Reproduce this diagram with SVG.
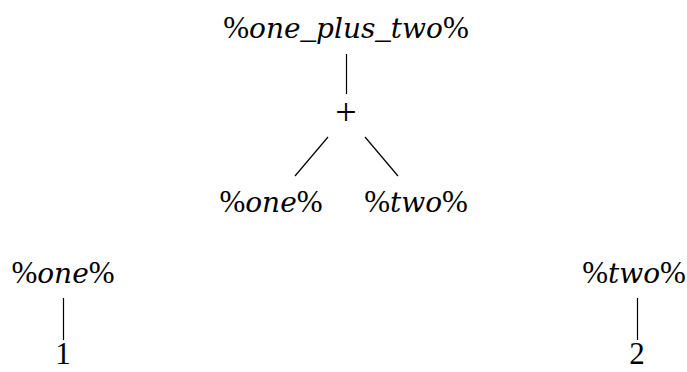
<svg xmlns="http://www.w3.org/2000/svg" width="687" height="372" viewBox="0 0 687 372">
<style>
text{font-family:'Liberation Serif','Times New Roman',serif;font-size:31px;fill:#000;text-anchor:middle}
.i{font-family:'DejaVu Serif',serif;font-style:italic;font-size:28px}
.c line{stroke:#000;stroke-width:1.2}
</style>
<rect width="687" height="372" fill="#fff"/>
<g class="c" id="connectors">
<line x1="346.5" y1="54" x2="346.5" y2="94"/>
<line x1="328" y1="137" x2="295" y2="176"/>
<line x1="365" y1="137" x2="398" y2="176"/>
<line x1="63.5" y1="298" x2="63.5" y2="340"/>
<line x1="637.5" y1="298" x2="637.5" y2="340"/>
</g>
<g id="root"><text x="346" y="38">%<tspan class="i">one</tspan>_<tspan class="i">plus</tspan>_<tspan class="i">two</tspan>%</text></g>
<g id="plus"><text x="346" y="125" style="font-size:38px">+</text></g>
<g id="one"><text x="271" y="212">%<tspan class="i">one</tspan>%</text></g>
<g id="two"><text x="416" y="212">%<tspan class="i">two</tspan>%</text></g>
<g id="one2"><text x="63" y="283">%<tspan class="i">one</tspan>%</text></g>
<g id="two2"><text x="634" y="283">%<tspan class="i">two</tspan>%</text></g>
<g id="n1"><text x="63" y="364">1</text></g>
<g id="n2"><text x="637" y="364">2</text></g>
</svg>
